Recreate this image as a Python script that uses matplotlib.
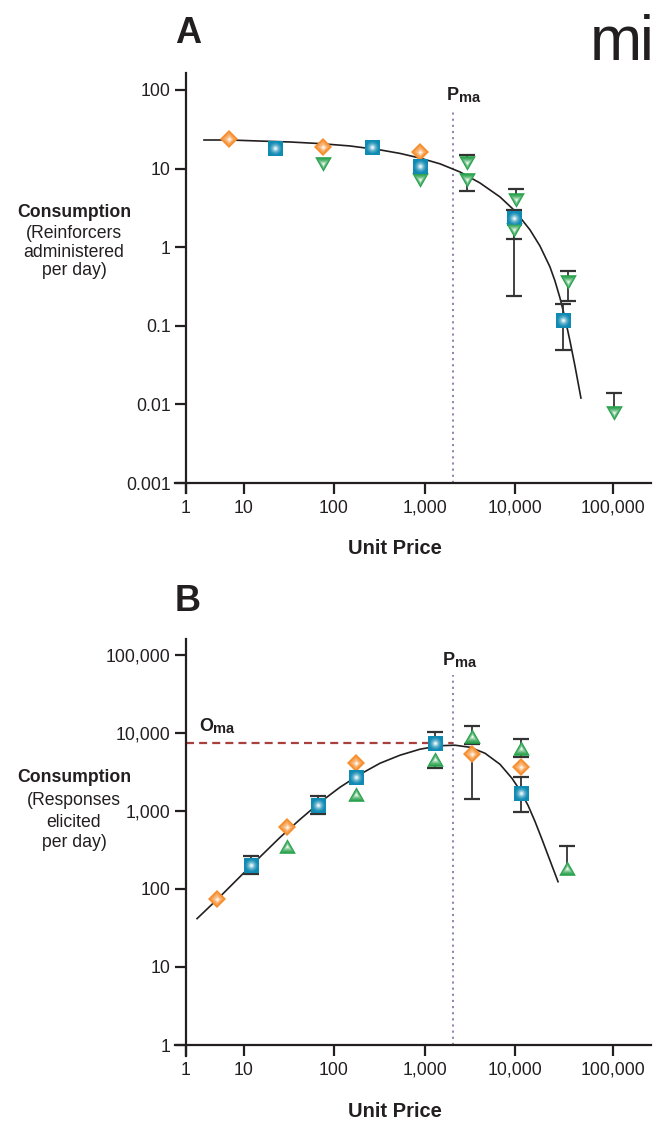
import numpy as np
import matplotlib
matplotlib.use('Agg')
import matplotlib.pyplot as plt
from matplotlib import colors as mcolors
from matplotlib.ticker import FixedLocator, FixedFormatter, NullLocator

plt.rcParams['font.family'] = ['Liberation Sans', 'DejaVu Sans']

nan = np.nan

# ---- data, panel A (reinforcers per day vs unit price) ----
a_orange_x = [5.5, 75, 880]
a_orange_y = [23.8, 18.8, 16.3]

a_blue_x = [22, 260, 880, 9750, 30900]
a_blue_y = [18.3, 18.8, 10.8, 2.35, 0.119]
a_blue_lo = [nan, nan, nan, 0.239, 0.049]
a_blue_hi = [nan, nan, nan, 2.97, 0.189]

a_green_x = [75, 880, 2900, 2900, 10200, 9750, 34800, 102000]
a_green_y = [11.5, 7.16, 11.8, 7.16, 3.99, 1.66, 0.361, 0.00778]
a_green_lo = [nan, nan, nan, 5.19, nan, 1.27, 0.207, nan]
a_green_hi = [nan, nan, 14.9, nan, 5.49, nan, 0.498, 0.01396]

a_fit_x = [2.04, 5.74, 15.1, 32.4, 69.9, 150, 320, 531, 881, 1468, 2449, 4084, 6813,
           10000, 14230, 17990, 22760, 25590, 28780, 32370, 36400, 40940, 47100]
a_fit_y = [23.1, 23.1, 22.4, 21.8, 20.8, 19.4, 17.3, 15.6, 13.6, 11.5, 9.06, 6.56, 4.36,
           2.89, 1.66, 1.035, 0.56, 0.372, 0.226, 0.126, 0.0641, 0.0308, 0.01205]

# ---- data, panel B (responses per day vs unit price) ----
b_orange_x = [3.42, 30, 175, 3330, 11500]
b_orange_y = [75.4, 615, 4090, 5330, 3630]
b_orange_lo = [nan, nan, nan, 1410, nan]
b_orange_hi = [nan, nan, nan, nan, nan]

b_blue_x = [12, 66, 175, 1290, 11500]
b_blue_y = [206, 1180, 2700, 7400, 1680]
b_blue_lo = [158, 904, nan, nan, 960]
b_blue_hi = [261, 1540, nan, 10230, 2700]

b_green_x = [30, 175, 1290, 3330, 11500, 34000]
b_green_y = [351, 1630, 4600, 9100, 6380, 188]
b_green_lo = [nan, nan, 3530, 7180, 4890, nan]
b_green_hi = [nan, nan, nan, 12200, 8320, 351]

b_fit_x = [1.55, 3.86, 11.7, 25.1, 41.9, 69.9, 116, 193, 320, 531, 881, 1468, 2154, 3162,
           4642, 6813, 9260, 11250, 13590, 16000, 18880, 22760, 27500]
b_fit_y = [41.7, 79.8, 194, 458, 780, 1291, 2010, 2951, 4092, 5190, 6196, 6870, 6970, 6560,
           5500, 3970, 2624, 1841, 1180, 735, 432, 232, 124]

PMA = 2050
OMA = 7400

x_ticks = [1, 10, 100, 1000, 10000, 100000]
x_labels = ['1', '10', '100', '1,000', '10,000', '100,000']
a_yticks = [0.001, 0.01, 0.1, 1, 10, 100]
a_ylabels = ['0.001', '0.01', '0.1', '1', '10', '100']
b_yticks = [1, 10, 100, 1000, 10000, 100000]
b_ylabels = ['1', '10', '100', '1,000', '10,000', '100,000']

# ---- style ----
INK = '#231f20'
ORANGE = '#f68e2e'
BLUE = '#0f8ab3'
GREEN = '#24a048'
ERR = '#333333'

W, H = 655, 1121


def fx(px):
    return px / W


def fy(py):
    return 1 - py / H


# the printed x axis has uneven decades, mimic it
DEC_LOG = [-10, 0, 1, 2, 3, 4, 5, 15]
DEC_POS = [-580, 0, 58, 148, 239, 329, 427, 1407]


def fwd(x):
    x = np.asarray(x, dtype=float)
    lx = np.log10(np.where(x > 0, x, 1e-300))
    return np.interp(lx, DEC_LOG, DEC_POS)


def inv(p):
    return 10 ** np.interp(p, DEC_POS, DEC_LOG)


TRI_DOWN = [(-1, 0.875), (1, 0.875), (0, -0.875)]
TRI_UP = [(-1, -0.875), (1, -0.875), (0, 0.875)]


def glow(ax, x, y, marker, color, ms, inner=None, n=10):
    # flat marker with a soft white centre, built from shrinking layers
    base = np.array(mcolors.to_rgb(color))
    ax.plot(x, y, ls='none', marker=marker, ms=ms, color=base, mew=0, zorder=5)
    m2 = inner if inner is not None else marker
    for k in range(1, n):
        f = k / (n - 1)
        c = base + (1 - base) * (0.05 + 0.9 * f ** 1.7)
        s = ms * (0.92 - 0.8 * f)
        ax.plot(x, y, ls='none', marker=m2, ms=s, color=c, mew=0, zorder=5 + k * 0.01)


def bars(ax, x, y, lo, hi):
    for xi, yi, l, h in zip(x, y, lo, hi):
        for end in (l, h):
            if not np.isnan(end):
                ax.plot([xi, xi], [yi, end], color=ERR, lw=1.3, zorder=2)
                ax.plot(xi, end, marker='_', ms=11.5, mew=1.6, color=ERR, zorder=2)


def setup(ax, ylim, yticks, ylabels, ybase):
    ax.set_xscale('function', functions=(fwd, inv))
    ax.set_yscale('log')
    ax.set_xlim(10 ** -0.19, 10 ** 5.388)
    ax.set_ylim(*ylim)
    ax.xaxis.set_major_locator(FixedLocator(x_ticks))
    ax.xaxis.set_major_formatter(FixedFormatter(x_labels))
    ax.xaxis.set_minor_locator(NullLocator())
    ax.yaxis.set_major_locator(FixedLocator(yticks))
    ax.yaxis.set_major_formatter(FixedFormatter(ylabels))
    ax.yaxis.set_minor_locator(NullLocator())
    for s in ['top', 'right']:
        ax.spines[s].set_visible(False)
    ax.spines['left'].set_position(('data', 1))
    ax.spines['bottom'].set_position(('data', ybase))
    for s in ['left', 'bottom']:
        ax.spines[s].set_linewidth(1.6)
        ax.spines[s].set_color(INK)
    ax.tick_params(direction='out', length=8, width=1.6, color=INK,
                   labelsize=12.7, labelcolor=INK)
    ax.tick_params(axis='y', pad=3)
    ax.tick_params(axis='x', pad=4)
    ax.patch.set_visible(False)


fig = plt.figure(figsize=(6.55, 11.21), dpi=100)

axA = fig.add_axes([fx(175), fy(493), fx(651) - fx(175), (493 - 73) / H])
axB = fig.add_axes([fx(175), fy(1056), fx(651) - fx(175), (1056 - 639) / H])

setup(axA, (10 ** -3.127, 10 ** 2.216), a_yticks, a_ylabels, 0.001)
setup(axB, (10 ** -0.141, 10 ** 5.205), b_yticks, b_ylabels, 1)

# panel A
axA.plot([PMA, PMA], [0.001, 57], ls=(0, (1.2, 2.2)), color='#8e7aa8', lw=1.3, zorder=1)
axA.plot(a_fit_x, a_fit_y, color=INK, lw=1.2, zorder=1.5)
bars(axA, a_blue_x, a_blue_y, a_blue_lo, a_blue_hi)
bars(axA, a_green_x, a_green_y, a_green_lo, a_green_hi)
glow(axA, a_green_x, a_green_y, TRI_DOWN, GREEN, 12)
glow(axA, a_orange_x, a_orange_y, 'D', ORANGE, 8.8)
glow(axA, a_blue_x, a_blue_y, 's', BLUE, 10.8, inner='o')

# panel B
axB.plot([PMA, PMA], [1, 55300], ls=(0, (1.2, 2.2)), color='#8e7aa8', lw=1.3, zorder=1)
axB.plot([1, PMA], [OMA, OMA], ls=(0, (3.6, 2.3)), color='#a8403d', lw=1.6, zorder=1)
axB.plot(b_fit_x, b_fit_y, color=INK, lw=1.2, zorder=1.5)
bars(axB, b_orange_x, b_orange_y, b_orange_lo, b_orange_hi)
bars(axB, b_blue_x, b_blue_y, b_blue_lo, b_blue_hi)
bars(axB, b_green_x, b_green_y, b_green_lo, b_green_hi)
glow(axB, b_green_x, b_green_y, TRI_UP, GREEN, 12)
glow(axB, b_orange_x, b_orange_y, 'D', ORANGE, 8.8)
glow(axB, b_blue_x, b_blue_y, 's', BLUE, 10.8, inner='o')

# labels
fig.text(fx(175), fy(43), 'A', fontsize=26, fontweight='bold', color=INK)
fig.text(fx(175), fy(611), 'B', fontsize=26, fontweight='bold', color=INK)
fig.text(fx(590), fy(60), 'm', fontsize=45, color=INK)
fig.text(fx(640), fy(60), 'i', fontsize=45, color=INK)

for name, px, py in [('P', 447, 100), ('P', 443, 665), ('O', 199, 731)]:
    fig.text(fx(px), fy(py), name, fontsize=13, fontweight='bold', color=INK)
for px, py in [(459, 102), (455, 667), (213, 733)]:
    fig.text(fx(px), fy(py), 'ma', fontsize=10.5, fontweight='bold', color=INK)

a_lab = [('Consumption', 217), ('(Reinforcers', 238), ('administered', 257), ('per day)', 275)]
b_lab = [('Consumption', 782), ('(Responses', 805), ('elicited', 827), ('per day)', 847)]
for lab in (a_lab, b_lab):
    for i, (t, py) in enumerate(lab):
        fig.text(fx(74), fy(py), t, ha='center', fontsize=12.7, color=INK,
                 fontweight='bold' if i == 0 else 'normal')

fig.text(fx(395), fy(554), 'Unit Price', ha='center', fontsize=14.5, fontweight='bold', color=INK)
fig.text(fx(395), fy(1117), 'Unit Price', ha='center', fontsize=14.5, fontweight='bold', color=INK)

fig.savefig('out.png', dpi=100)
